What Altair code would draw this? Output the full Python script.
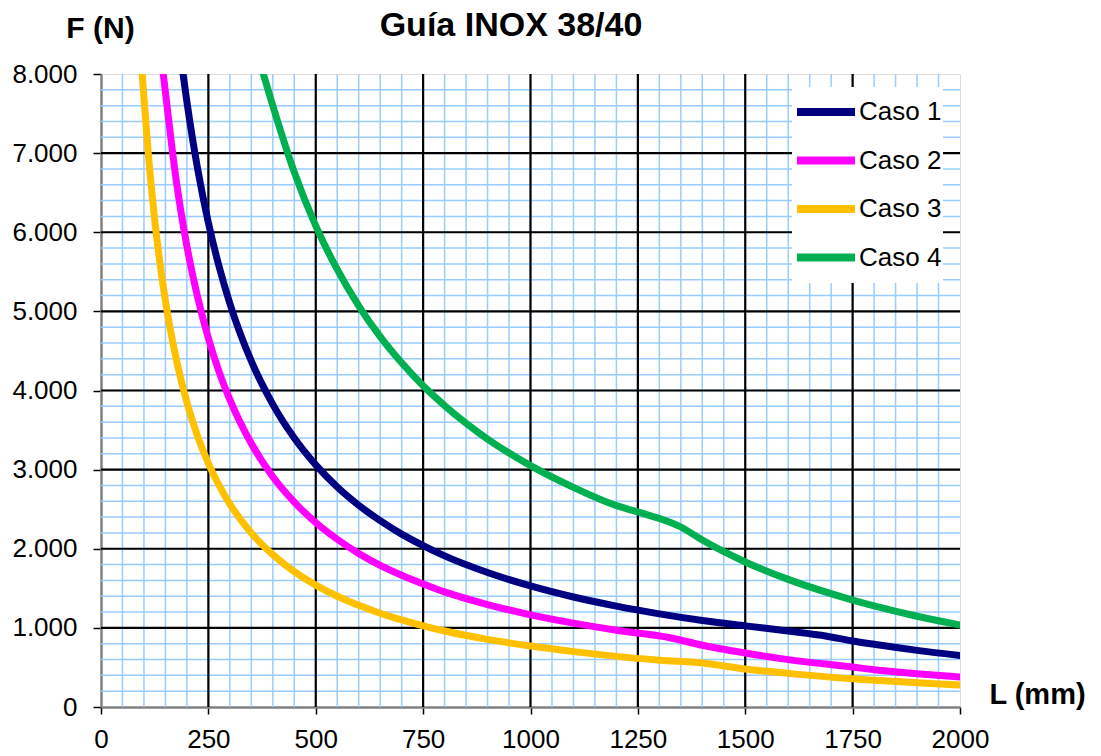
import altair as alt
import pandas as pd

# ---- data ----
chart_title = "Guía INOX 38/40"
series_names = ["Caso 1", "Caso 2", "Caso 3", "Caso 4"]
series_colors = ["#000080", "#FF00FF", "#FFC000", "#00B050"]

L_caso1 = [191, 200, 225, 250, 275, 300, 350, 400, 450, 500, 550, 600, 650, 700, 750, 800,
           900, 1000, 1100, 1200, 1300, 1400, 1500, 1600, 1690, 1750, 1800, 1900, 2000]
F_caso1 = [8000, 7650, 6800, 6120, 5565, 5100, 4370, 3825, 3400, 3060, 2780, 2550, 2355, 2185, 2040, 1910,
           1700, 1530, 1390, 1275, 1177, 1093, 1025, 960, 895, 834, 792, 716, 652]

L_caso2 = [145, 150, 175, 200, 225, 250, 275, 300, 350, 400, 450, 500, 550, 600, 650, 700, 750, 800,
           900, 1000, 1100, 1200, 1325, 1400, 1500, 1600, 1750, 1800, 1900, 2000]
F_caso2 = [8000, 7770, 6660, 5825, 5180, 4660, 4235, 3885, 3330, 2910, 2590, 2330, 2120, 1940, 1790, 1665, 1555, 1455,
           1295, 1165, 1060, 970, 875, 781, 683, 599, 505, 471, 421, 380]

L_caso3 = [96, 100, 110, 125, 150, 175, 200, 225, 250, 275, 300, 350, 400, 450, 500, 550, 600, 650, 700, 750, 800,
           900, 1000, 1100, 1200, 1300, 1410, 1500, 1600, 1750, 1800, 1900, 2000]
F_caso3 = [8000, 7700, 7000, 6160, 5130, 4400, 3850, 3420, 3080, 2800, 2565, 2200, 1925, 1710, 1540, 1400, 1285, 1185, 1100, 1025, 960,
           855, 770, 700, 640, 592, 550, 480, 425, 356, 339, 306, 278]

L_caso4 = [378, 400, 450, 500, 550, 600, 650, 700, 750, 800, 850, 900, 1000, 1100, 1200, 1250, 1350,
           1400, 1500, 1600, 1750, 1800, 1900, 2000]
F_caso4 = [8000, 7600, 6760, 6080, 5530, 5070, 4680, 4350, 4060, 3810, 3585, 3385, 3050, 2775, 2545, 2465, 2275,
           2110, 1833, 1613, 1352, 1278, 1147, 1036]

x_ticks = [0, 250, 500, 750, 1000, 1250, 1500, 1750, 2000]
y_ticks = [0, 1000, 2000, 3000, 4000, 5000, 6000, 7000, 8000]
x_minor = list(range(50, 2000, 50))
y_minor = list(range(200, 8000, 200))
x_major = [250, 500, 750, 1000, 1250, 1500, 1750]
y_major = [1000, 2000, 3000, 4000, 5000, 6000, 7000]

rows = []
for name, Ls, Fs in zip(series_names, [L_caso1, L_caso2, L_caso3, L_caso4],
                        [F_caso1, F_caso2, F_caso3, F_caso4]):
    for i, (l, f) in enumerate(zip(Ls, Fs)):
        rows.append({"serie": name, "L": l, "F": f, "ord": i})
df = pd.DataFrame(rows)

FONT = "Liberation Sans"
xscale = alt.Scale(domain=[0, 2000], nice=False, zero=False)
yscale = alt.Scale(domain=[0, 8000], nice=False, zero=False)

x_axis = alt.Axis(values=x_ticks, grid=False, title="L (mm)",
                  labelExpr="format(datum.value, 'd')",
                  titleFont=FONT, titleFontSize=29, titleFontWeight="bold", titleColor="black",
                  titleAngle=0, titleX=936, titleY=-4, titleAlign="center", titleBaseline="alphabetic",
                  labelFont=FONT, labelFontSize=26, labelColor="black", labelPadding=12,
                  labelFlush=False, labelOverlap=False,
                  tickColor="black", tickSize=7, tickWidth=1.5,
                  domainColor="#808080", domainWidth=2.5)
y_axis = alt.Axis(values=y_ticks, grid=False, title="F (N)",
                  labelExpr="replace(format(datum.value, ','), ',', '.')",
                  titleFont=FONT, titleFontSize=30, titleFontWeight="bold", titleColor="black",
                  titleAngle=0, titleX=-1, titleY=-37, titleAlign="center", titleBaseline="alphabetic",
                  labelFont=FONT, labelFontSize=26, labelColor="black", labelPadding=16,
                  labelFlush=False, labelOverlap=False,
                  tickColor="black", tickSize=8, tickWidth=1.5,
                  domainColor="#808080", domainWidth=2.5)

minor_x = alt.Chart(pd.DataFrame({"L": x_minor})).mark_rule(color="#99CCFF", strokeWidth=1.5).encode(
    x=alt.X("L:Q", scale=xscale, axis=x_axis))
minor_y = alt.Chart(pd.DataFrame({"F": y_minor})).mark_rule(color="#99CCFF", strokeWidth=1.5).encode(
    y=alt.Y("F:Q", scale=yscale, axis=y_axis))
major_x = alt.Chart(pd.DataFrame({"L": x_major})).mark_rule(color="black", strokeWidth=2.2).encode(
    x=alt.X("L:Q", scale=xscale, axis=x_axis))
major_y = alt.Chart(pd.DataFrame({"F": y_major})).mark_rule(color="black", strokeWidth=2.2).encode(
    y=alt.Y("F:Q", scale=yscale, axis=y_axis))

lines = alt.Chart(df).mark_line(strokeWidth=7, interpolate="monotone", clip=True,
                                strokeCap="round", strokeJoin="round").encode(
    x=alt.X("L:Q", scale=xscale, axis=x_axis),
    y=alt.Y("F:Q", scale=yscale, axis=y_axis),
    color=alt.Color("serie:N", scale=alt.Scale(domain=series_names, range=series_colors),
                    legend=alt.Legend(title=None, orient="none", legendX=691, legendY=13,
                                      fillColor="white", padding=1,
                                      symbolType="stroke", symbolSize=3364, symbolStrokeWidth=8,
                                      labelFont=FONT, labelFontSize=26, labelColor="black",
                                      labelOffset=0, clipHeight=48, rowPadding=0.5)),
    order="ord:Q",
)

title_text = alt.Chart(pd.DataFrame({"t": [chart_title]})).mark_text(
    font=FONT, fontSize=34, fontWeight="bold", color="black",
    align="center", baseline="alphabetic").encode(
    text="t:N", x=alt.value(410), y=alt.value(-38))

chart = alt.layer(minor_x, minor_y, major_x, major_y, lines, title_text).properties(
    width=859, height=633,
    autosize=alt.AutoSizeParams(type="none"),
    padding={"left": 93, "top": 66, "right": 133, "bottom": 48},
).configure_view(stroke="#808080", strokeWidth=2.5).configure(background="white")

chart.save("out.html", embed_options={"renderer": "svg", "actions": False})
